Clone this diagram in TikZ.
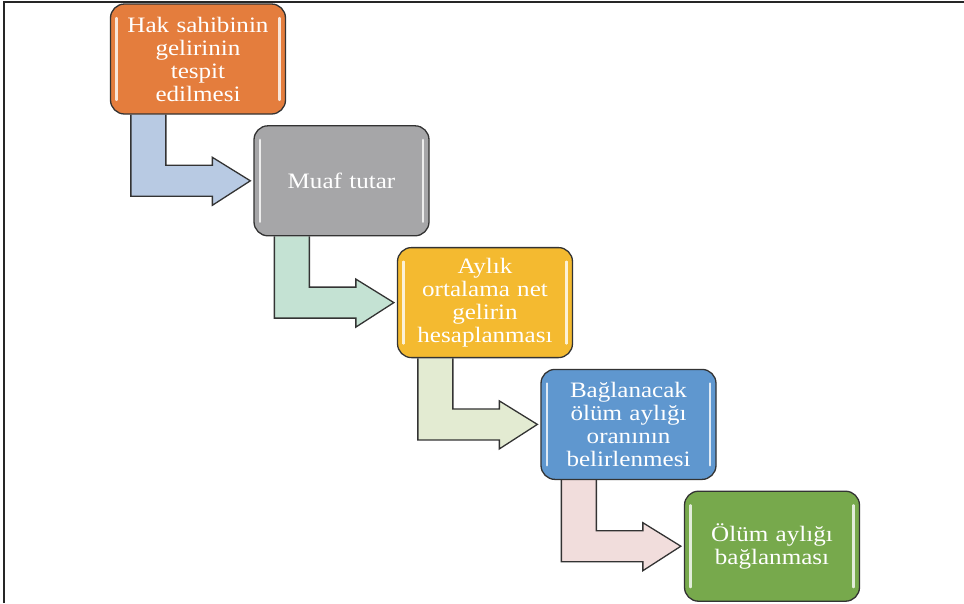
\documentclass[tikz,border=0pt]{standalone}
\usepackage{fontspec}
\setmainfont[FakeStretch=1.14]{Liberation Serif}
\usetikzlibrary{calc,backgrounds}
\definecolor{boxorange}{HTML}{E47D3D}
\definecolor{boxgray}{HTML}{A6A6A8}
\definecolor{boxyellow}{HTML}{F4BA30}
\definecolor{boxblue}{HTML}{5F97CF}
\definecolor{boxgreen}{HTML}{77A94C}
\definecolor{arrblue}{HTML}{B8CAE3}
\definecolor{arrgreen}{HTML}{C4E2D3}
\definecolor{arrolive}{HTML}{E3EBD2}
\definecolor{arrpink}{HTML}{F1DDDC}
\tikzset{
  stepbox/.style={draw=black!80,line width=1.3pt,rounded corners=14pt,
    minimum width=175pt,minimum height=110pt,inner sep=0pt,
    text width=165pt,align=center,text=white,
    font=\fontsize{22}{23}\selectfont,
    path picture={
      \draw[white,line width=2.2pt,opacity=0.8,line cap=round]
        ([xshift=6pt,yshift=-14pt]path picture bounding box.north west) --
        ([xshift=6pt,yshift=14pt]path picture bounding box.south west);
      \draw[white,line width=2.2pt,opacity=0.8,line cap=round]
        ([xshift=-6pt,yshift=-14pt]path picture bounding box.north east) --
        ([xshift=-6pt,yshift=14pt]path picture bounding box.south east);
    }},
  bentarrow/.style={draw=black!80,line width=1.3pt,line join=miter}
}
\begin{document}
\begin{tikzpicture}[x=1pt,y=-1pt]
  \useasboundingbox (0,0) rectangle (964,603);
  % frame
  \draw[line width=1.6pt,black!85] (4,603) -- (4,2) -- (964,2);
  % steps
  \node[stepbox,fill=boxorange] (box1) at (198,59) {Hak sahibinin\\gelirinin\\tespit\\edilmesi};
  \node[stepbox,fill=boxgray] (box2) at (341.5,180.8) {Muaf tutar};
  \node[stepbox,fill=boxyellow] (box3) at (485,302.6) {Aylık\\ortalama net\\gelirin\\hesaplanması};
  \node[stepbox,fill=boxblue] (box4) at (628.5,424.4) {Bağlanacak\\ölüm aylığı\\oranının\\belirlenmesi};
  \node[stepbox,fill=boxgreen] (box5) at (772,546.2) {Ölüm aylığı\\bağlanması};
  % bent arrows
  \begin{pgfonlayer}{background}
    \foreach \a/\b/\c in {box1/box2/arrblue,box2/box3/arrgreen,box3/box4/arrolive,box4/box5/arrpink}
      \draw[bentarrow,fill=\c] ($(\a.south west)+(21,0)$) |- ($(\b.west)+(-41,15.5)$)
        -- ++(0,9) -- ($(\b.west)+(-3,0)$) -- ($(\b.west)+(-41,-23.5)$)
        -- ++(0,8) -| ($(\a.south west)+(56,0)$);
  \end{pgfonlayer}
\end{tikzpicture}
\end{document}
